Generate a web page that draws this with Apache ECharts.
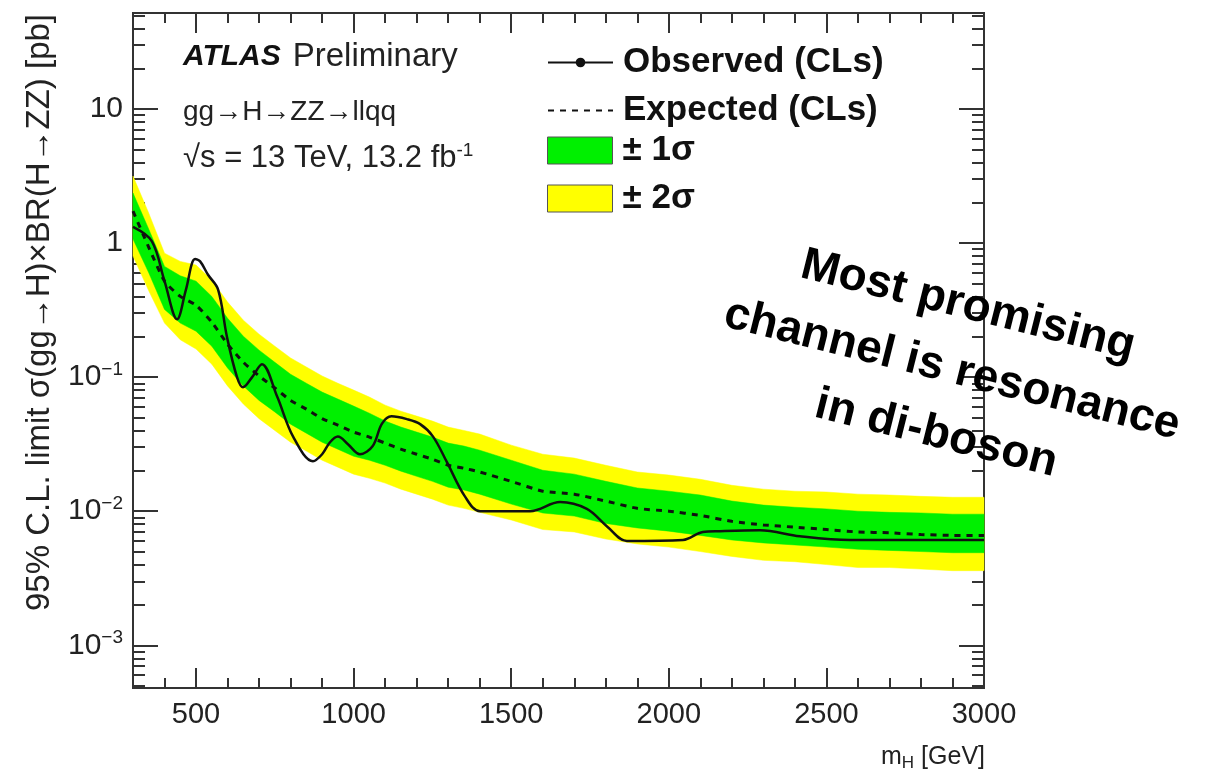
<!DOCTYPE html>
<html>
<head>
<meta charset="utf-8">
<title>gg→H→ZZ→llqq limit</title>
<script src="https://cdn.jsdelivr.net/npm/echarts@6/dist/echarts.min.js"></script>
<style>
  html, body { margin: 0; padding: 0; background: #fff; }
  #chart { width: 1228px; height: 781px; }
</style>
</head>
<body>
<div id="chart"></div>
<script>
// mass points of the expected limit and its bands [GeV]
var bandMass = [300, 350, 400, 450, 500, 550, 600, 650, 700, 750, 800, 850, 900, 950, 1000,
  1050, 1100, 1150, 1200, 1250, 1300, 1350, 1400, 1500, 1600, 1700, 1800, 1900, 2000,
  2100, 2200, 2300, 2400, 2500, 2600, 2700, 2800, 2900, 3000];
// expected limit [pb]
var expected = [1.73, 0.93, 0.52, 0.40, 0.344, 0.257, 0.176, 0.129, 0.102, 0.083, 0.067, 0.0577, 0.049, 0.0438, 0.0389,
  0.0357, 0.0322, 0.029, 0.0266, 0.0244, 0.022, 0.0209, 0.0196, 0.0167, 0.0141, 0.0134, 0.0119, 0.0105, 0.0100,
  0.0093, 0.0084, 0.0079, 0.0076, 0.0073, 0.0070, 0.0069, 0.0067, 0.0066, 0.0066];
// +-1 sigma band
var sigma1Lo = [1.07, 0.60, 0.32, 0.253, 0.22, 0.17, 0.117, 0.086, 0.067, 0.055, 0.0446, 0.0382, 0.0327, 0.029, 0.0257,
  0.024, 0.022, 0.0199, 0.0182, 0.0167, 0.0151, 0.0144, 0.0134, 0.0113, 0.0097, 0.0092, 0.0081, 0.0075, 0.0071,
  0.0066, 0.0061, 0.0058, 0.0056, 0.0054, 0.0052, 0.0051, 0.0050, 0.0049, 0.0049];
var sigma1Hi = [2.36, 1.27, 0.67, 0.57, 0.52, 0.40, 0.275, 0.202, 0.159, 0.129, 0.105, 0.090, 0.0773, 0.0686, 0.0608,
  0.0538, 0.047, 0.0424, 0.0389, 0.0357, 0.0322, 0.0306, 0.0285, 0.024, 0.0202, 0.0189, 0.0167, 0.0149, 0.0141,
  0.0132, 0.0119, 0.0111, 0.0107, 0.0104, 0.0100, 0.0098, 0.0097, 0.0095, 0.0095];
// +-2 sigma band
var sigma2Lo = [0.80, 0.44, 0.253, 0.19, 0.162, 0.125, 0.086, 0.063, 0.049, 0.040, 0.0327, 0.0281, 0.024, 0.0213, 0.0189,
  0.0176, 0.0162, 0.0146, 0.0134, 0.0123, 0.0111, 0.0105, 0.0098, 0.0086, 0.0073, 0.0070, 0.0062, 0.0057, 0.0054,
  0.0050, 0.0046, 0.0043, 0.0042, 0.0040, 0.0038, 0.0038, 0.0037, 0.0036, 0.0036];
var sigma2Hi = [3.16, 1.67, 0.84, 0.73, 0.685, 0.53, 0.363, 0.266, 0.209, 0.170, 0.139, 0.119, 0.102, 0.090, 0.080,
  0.071, 0.0618, 0.0557, 0.0512, 0.047, 0.0424, 0.040, 0.0376, 0.0311, 0.0266, 0.0249, 0.022, 0.0196, 0.0186,
  0.0173, 0.0156, 0.0146, 0.0141, 0.0139, 0.0134, 0.0132, 0.0129, 0.0127, 0.0127];
// observed limit
var obsMass = [300, 360, 400, 440, 468, 497, 513, 538, 570, 598, 630, 649, 678, 709, 757, 808, 871, 900, 925, 950,
  982, 1020, 1060, 1090, 1120, 1169, 1211, 1252, 1296, 1353, 1401, 1560, 1655, 1740, 1804, 1867, 2045, 2108, 2162,
  2289, 2416, 2575, 3000];
var observed = [1.32, 1.03, 0.52, 0.27, 0.45, 0.76, 0.73, 0.58, 0.45, 0.20, 0.10, 0.084, 0.10, 0.125, 0.072, 0.036,
  0.0236, 0.0266, 0.0327, 0.036, 0.0316, 0.0266, 0.0305, 0.045, 0.051, 0.0486, 0.0446, 0.036, 0.0232, 0.0129, 0.0100,
  0.0100, 0.0117, 0.0104, 0.0077, 0.0060, 0.0061, 0.0070, 0.0071, 0.0072, 0.0065, 0.0061, 0.0061];

var xMajor = [500, 1000, 1500, 2000, 2500, 3000];
var xMinor = [400, 600, 700, 800, 900, 1100, 1200, 1300, 1400, 1600, 1700, 1800, 1900,
  2100, 2200, 2300, 2400, 2600, 2700, 2800, 2900];
var yMajor = [0.001, 0.01, 0.1, 1, 10];
var xMin = 300, xMax = 3000, yMin = 4.8e-4, yMax = 52;

var yMinor = [];
[-4, -3, -2, -1, 0, 1].forEach(function (d) {
  for (var k = 2; k <= 9; k++) {
    var v = +(k * Math.pow(10, d)).toPrecision(3);
    if (v >= yMin && v <= yMax) yMinor.push(v);
  }
});

var FONT = 'Liberation Sans';
var INK = '#222';
var frameLine = { color: '#333', width: 2 };

function pairs(xs, ys) {
  return xs.map(function (x, i) { return [x, ys[i]]; });
}

function xAxisOf(pos, ticks, len, withLabels) {
  return {
    type: 'value', position: pos, min: xMin, max: xMax,
    axisLine: { show: true, onZero: false, lineStyle: frameLine },
    axisTick: { show: true, inside: true, length: len, customValues: ticks, lineStyle: frameLine },
    axisLabel: withLabels ? {
      show: true, customValues: xMajor, margin: 12,
      fontFamily: FONT, fontSize: 29, color: INK,
      formatter: function (v) { return String(v); }
    } : { show: false },
    splitLine: { show: false }
  };
}
function yAxisOf(pos, ticks, len, withLabels) {
  return {
    type: 'log', logBase: 10, position: pos, min: yMin, max: yMax,
    axisLine: { show: true, onZero: false, lineStyle: frameLine },
    axisTick: { show: true, inside: true, length: len, customValues: ticks, lineStyle: frameLine },
    axisLabel: withLabels ? {
      show: true, customValues: yMajor, margin: 10,
      fontFamily: FONT, fontSize: 30, color: INK,
      formatter: function (v) {
        if (v >= 1) return String(Math.round(v));
        return '10{sup|\u2212' + Math.round(-Math.log10(v)) + '}';
      },
      rich: { sup: { fontFamily: FONT, fontSize: 19, color: INK, padding: [0, 0, 14, 0] } }
    } : { show: false },
    splitLine: { show: false }
  };
}

// one filled polygon per band, corners placed through the grid's own coordinate system
function bandSeries(name, lo, hi, color) {
  return {
    name: name, type: 'custom', silent: true, color: color,
    itemStyle: { color: color },
    data: bandMass.map(function (m, i) { return [m, lo[i], hi[i]]; }),
    encode: { x: 0, y: [1, 2] },
    renderItem: function (params, api) {
      if (params.dataIndex !== 0) return null;
      var upper = [], lower = [];
      for (var i = 0; i < bandMass.length; i++) {
        upper.push(api.coord([bandMass[i], hi[i]]));
        lower.unshift(api.coord([bandMass[i], lo[i]]));
      }
      return {
        type: 'polygon',
        shape: { points: upper.concat(lower) },
        style: { fill: color, stroke: color, lineWidth: 0.5 }
      };
    }
  };
}

var chart = echarts.init(document.getElementById('chart'));

var legendText = { fontFamily: FONT, fontSize: 35, fontWeight: 'bold', color: '#111', lineHeight: 30, padding: [0, 0, 0, 5] };

var option = {
  animation: false,
  backgroundColor: '#fff',
  grid: { left: 133, right: 244, top: 13, bottom: 93, containLabel: false, outerBoundsMode: 'none' },
  xAxis: [
    xAxisOf('bottom', xMajor, 20, true),
    xAxisOf('bottom', xMinor, 10, false),
    xAxisOf('top', xMajor, 20, false),
    xAxisOf('top', xMinor, 10, false)
  ],
  yAxis: [
    yAxisOf('left', yMajor, 25, true),
    yAxisOf('left', yMinor, 12, false),
    yAxisOf('right', yMajor, 25, false),
    yAxisOf('right', yMinor, 12, false)
  ],
  legend: [
    {
      left: 547, top: 45, orient: 'vertical', padding: 0,
      itemWidth: 65, itemHeight: 12, itemGap: 13, selectedMode: false,
      textStyle: legendText,
      data: [
        { name: 'Observed (CLs)' },
        { name: 'Expected (CLs)', itemStyle: { opacity: 0 } }
      ]
    },
    {
      left: 547, top: 133, orient: 'vertical', padding: 0,
      itemWidth: 65, itemHeight: 27, itemGap: 13, selectedMode: false,
      textStyle: legendText,
      data: [
        { name: '± 1σ', icon: 'rect', itemStyle: { color: '#00f000', borderColor: '#555', borderWidth: 1 } },
        { name: '± 2σ', icon: 'rect', itemStyle: { color: '#ffff00', borderColor: '#555', borderWidth: 1 } }
      ]
    }
  ],
  series: [
    bandSeries('± 2σ', sigma2Lo, sigma2Hi, '#ffff00'),
    bandSeries('± 1σ', sigma1Lo, sigma1Hi, '#00f000'),
    {
      name: 'Expected (CLs)', type: 'line', silent: true, symbol: 'none', color: '#111',
      data: pairs(bandMass, expected), smooth: 0.2,
      lineStyle: { color: '#111', width: 3, type: [6, 6] }
    },
    {
      name: 'Observed (CLs)', type: 'line', silent: true, symbol: 'circle', symbolSize: 10,
      showSymbol: false, color: '#111',
      data: pairs(obsMass, observed), smooth: 0.35,
      lineStyle: { color: '#111', width: 2.5 }
    }
  ],
  graphic: [
    {
      type: 'text', x: 183, y: 57, z: 100,
      style: {
        text: '{a|ATLAS}{b|Preliminary}', align: 'left', verticalAlign: 'middle',
        rich: {
          a: { fontFamily: FONT, fontSize: 30, fontWeight: 'bold', fontStyle: 'italic', fill: '#111', padding: [0, 12, 0, 0] },
          b: { fontFamily: FONT, fontSize: 33, fill: INK }
        }
      }
    },
    {
      type: 'text', x: 183, y: 112, z: 100,
      style: { text: 'gg\u2192H\u2192ZZ\u2192llqq', align: 'left', verticalAlign: 'middle',
        fontFamily: FONT, fontSize: 28, fill: INK }
    },
    {
      type: 'text', x: 183, y: 158, z: 100,
      style: {
        text: '\u221As = 13 TeV, 13.2 fb{sup|-1}', align: 'left', verticalAlign: 'middle',
        fontFamily: FONT, fontSize: 31, fill: INK,
        rich: { sup: { fontFamily: FONT, fontSize: 19, fill: INK, padding: [0, 0, 14, 0] } }
      }
    },
    {
      type: 'text', x: 40, y: 14, z: 100, rotation: Math.PI / 2,
      style: {
        text: '95% C.L. limit \u03C3(gg\u2192H)\u00D7BR(H\u2192ZZ) [pb]',
        align: 'right', verticalAlign: 'middle', fontFamily: FONT, fontSize: 33, fill: INK
      }
    },
    {
      type: 'text', x: 985, y: 757, z: 100,
      style: {
        text: 'm{sub|H} [GeV]', align: 'right', verticalAlign: 'middle',
        fontFamily: FONT, fontSize: 25, fill: INK,
        rich: { sub: { fontFamily: FONT, fontSize: 17, fill: INK, padding: [12, 0, 0, 0] } }
      }
    },
    {
      type: 'text', x: 952, y: 370, z: 120, rotation: -14 * Math.PI / 180,
      style: {
        text: 'Most promising\nchannel is resonance\nin di-boson',
        align: 'center', verticalAlign: 'middle', lineHeight: 66,
        fontFamily: FONT, fontSize: 46, fontWeight: 'bold', fill: '#000'
      }
    }
  ]
};

chart.setOption(option);
</script>
</body>
</html>
